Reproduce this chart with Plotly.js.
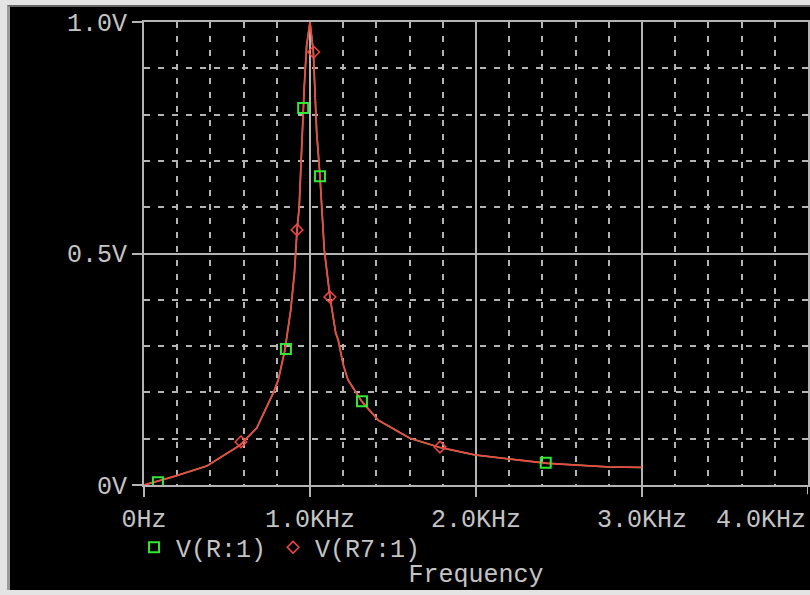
<!DOCTYPE html>
<html>
<head>
<meta charset="utf-8">
<script src="https://cdn.plot.ly/plotly-3.0.1.min.js"></script>
<style>
  html, body { margin: 0; padding: 0; background: #e4e4e4; width: 810px; height: 595px; overflow: hidden; }
  #frame { position: absolute; left: 7px; top: 5px; width: 803px; height: 585px; background: #000;
           border-left: 3px solid #9a9a9a; border-top: 2px solid #666; box-sizing: border-box; }
  #chart { position: absolute; left: 10px; top: 7px; width: 800px; height: 583px; }
</style>
</head>
<body>
<div id="frame"></div>
<div id="chart"></div>
<script>
// Curve (frequency in Hz, voltage in V)
const curveFreq = [0, 177, 378, 578, 679, 779, 809, 849, 884, 906, 922, 935, 944, 953, 959, 966, 980, 1000,
                   1020, 1030, 1040, 1060, 1076, 1086, 1120, 1155, 1170, 1200, 1229, 1311, 1411, 1602, 1783,
                   1994, 2205, 2426, 2606, 2797, 2998];
const curveV    = [0, 0.018, 0.041, 0.086, 0.123, 0.199, 0.227, 0.292, 0.378, 0.457, 0.551, 0.600, 0.677, 0.767, 0.814, 0.864, 0.950, 1.000,
                   0.936, 0.849, 0.763, 0.667, 0.583, 0.508, 0.407, 0.328, 0.313, 0.260, 0.227, 0.181, 0.140, 0.101, 0.081,
                   0.065, 0.056, 0.047, 0.043, 0.039, 0.038];

// Marker positions
const rMarkFreq = [84, 959, 1060, 855, 1313, 2420];
const rMarkV    = [0.006, 0.814, 0.667, 0.294, 0.181, 0.048];
const r7MarkFreq = [584, 922, 1022, 1120, 1783];
const r7MarkV    = [0.093, 0.551, 0.935, 0.406, 0.082];

const seriesNames = ['V(R:1)', 'V(R7:1)'];

const xTickVals = [0, 1000, 2000, 3000];
const xTickText = ['0Hz', '1.0KHz', '2.0KHz', '3.0KHz'];
const xLastTick = 4000, xLastText = '4.0KHz';
const yTickVals = [0, 0.5, 1.0];
const yTickText = ['0V', '0.5V', '1.0V'];

const green = '#33e833';
const red = '#f24646';
const gray = '#b4b4b4';
const textCol = '#c4c4c4';
const fnt = {family: 'Liberation Mono, DejaVu Sans Mono, monospace', size: 25, color: textCol};

const traces = [
  {x: curveFreq, y: curveV, mode: 'lines', line: {color: green, width: 1.5}, showlegend: false, hoverinfo: 'skip'},
  {x: curveFreq, y: curveV, mode: 'lines', line: {color: red, width: 1.8}, showlegend: false, hoverinfo: 'skip'},
  {x: rMarkFreq, y: rMarkV, mode: 'markers', name: seriesNames[0],
   marker: {symbol: 'square-open', size: 10, color: green, line: {width: 2, color: green}}},
  {x: r7MarkFreq, y: r7MarkV, mode: 'markers', name: seriesNames[1],
   marker: {symbol: 'diamond-open', size: 9, color: red, line: {width: 1.5, color: red}}}
];

const layout = {
  width: 800, height: 583,
  margin: {l: 134, r: 2, t: 15, b: 105},
  paper_bgcolor: 'rgba(0,0,0,0)',
  plot_bgcolor: '#000',
  font: fnt,
  showlegend: true,
  legend: {orientation: 'h', x: -0.018, xanchor: 'left', y: -0.135, yanchor: 'middle',
           font: fnt, bgcolor: 'rgba(0,0,0,0)', itemwidth: 34, tracegroupgap: 0},
  xaxis: {
    range: [0, 4000], fixedrange: true,
    tickvals: xTickVals, ticktext: xTickText,
    ticks: 'outside', ticklen: 10, tickwidth: 2, tickcolor: gray,
    showline: true, linecolor: gray, linewidth: 2, mirror: true,
    showgrid: true, gridcolor: gray, gridwidth: 2,
    zeroline: false,
    minor: {dtick: 200, tick0: 0, showgrid: true, gridcolor: gray, gridwidth: 2, griddash: '6px,8px', ticks: ''},
    tickfont: fnt,
    title: {text: 'Frequency', font: fnt, standoff: 53}
  },
  yaxis: {
    range: [0, 1], fixedrange: true,
    tickvals: yTickVals, ticktext: yTickText,
    ticks: 'outside', ticklen: 10, tickwidth: 2, tickcolor: gray,
    showline: true, linecolor: gray, linewidth: 2, mirror: true,
    showgrid: true, gridcolor: gray, gridwidth: 2,
    zeroline: false,
    minor: {dtick: 0.1, tick0: 0, showgrid: true, gridcolor: gray, gridwidth: 2, griddash: '6px,8px', ticks: ''},
    tickfont: fnt
  },
  annotations: [
    {x: xLastTick, y: 0, xref: 'x', yref: 'y', text: xLastText, showarrow: false,
     xanchor: 'right', yanchor: 'top', yshift: -19, font: fnt},
  ],
  shapes: [
    {type: 'line', xref: 'x', yref: 'paper', x0: xLastTick, x1: xLastTick, y0: 0, y1: -0.02,
     line: {color: gray, width: 2}}
  ]
};

Plotly.newPlot('chart', traces, layout, {displayModeBar: false, staticPlot: true});
</script>
</body>
</html>
